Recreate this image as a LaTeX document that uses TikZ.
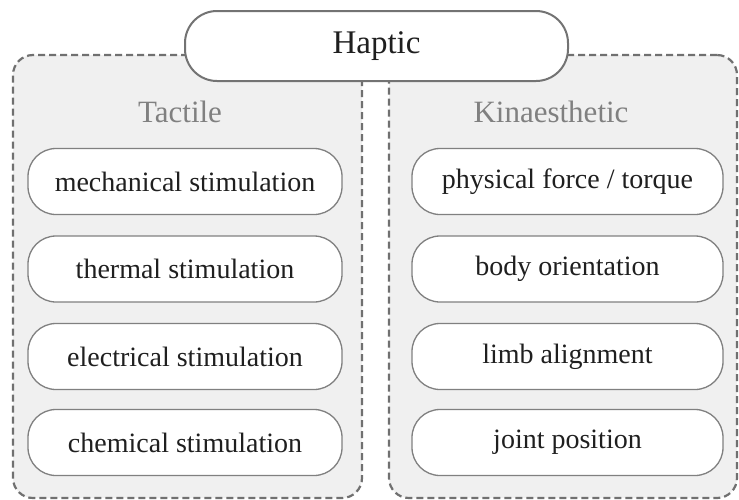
\documentclass[tikz,border=0pt]{standalone}
\usepackage{fontspec}
\setmainfont{Liberation Serif}
\begin{document}
\begin{tikzpicture}[x=1pt,y=-1pt,
  panel/.style={draw=black!56, fill=black!6, line width=2.2pt, dash pattern=on 7pt off 4pt,
    rounded corners=20pt, rectangle, inner sep=0pt},
  item/.style={draw=black!50, fill=white, line width=1.3pt, rounded corners=28pt,
    rectangle, minimum width=314pt, minimum height=66pt, inner sep=0pt,
    font=\fontsize{28}{32}\selectfont, text=black!88},
  head/.style={font=\fontsize{31}{36}\selectfont, text=black!50, inner sep=0pt},
  top/.style={draw=black!55, fill=white, line width=2pt, rounded corners=32pt,
    rectangle, minimum width=383pt, minimum height=70pt, inner sep=0pt,
    font=\fontsize{33}{38}\selectfont, text=black!88}]
\clip (0,0) rectangle (739,499);
\fill[white] (0,0) rectangle (739,499);
\node[panel, minimum width=349pt, minimum height=443pt] (lp) at (187.5,276.5) {};
\node[panel, minimum width=348pt, minimum height=443pt] (rp) at (563,276.5) {};
\node[top] (haptic) at (376.5,46) {Haptic};
\node[head] (tac) at (180,112) {Tactile};
\node[head] (kin) at (551,112) {Kinaesthetic};
\node[item] (l1) at (185,181.5) {mechanical stimulation};
\node[item] (l2) at (185,269) {thermal stimulation};
\node[item] (l3) at (185,356.5) {electrical stimulation};
\node[item] (l4) at (185,442.5) {chemical stimulation};
\node[item, minimum width=311pt] (r1) at (567.5,181.5) {physical force / torque};
\node[item, minimum width=311pt] (r2) at (567.5,269) {body orientation};
\node[item, minimum width=311pt] (r3) at (567.5,356.5) {limb alignment};
\node[item, minimum width=311pt] (r4) at (567.5,442.5) {joint position};
\end{tikzpicture}
\end{document}
